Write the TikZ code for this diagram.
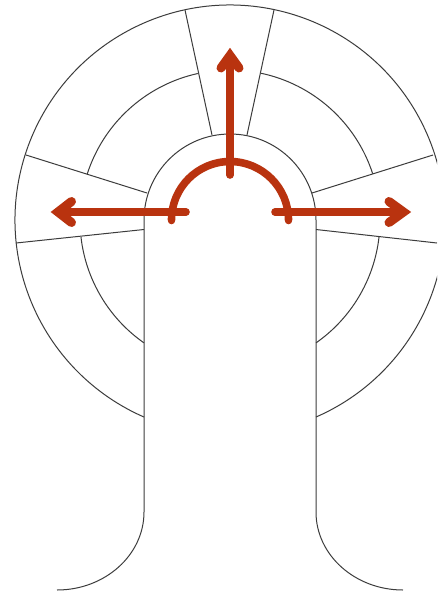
\documentclass[tikz,border=0pt]{standalone}
\definecolor{wire}{HTML}{3C3C3C}
\definecolor{rust}{HTML}{B9330F}
\tikzset{
  wireline/.style={draw=wire,line width=1pt},
  rustline/.style={draw=rust,line width=7.6pt,line cap=round,line join=round},
  rusthead/.style={draw=rust,line width=9pt,line cap=round,line join=miter}
}
\begin{document}
\begin{tikzpicture}[x=1pt,y=1pt]
\useasboundingbox (0,0) rectangle (437,-595);
\fill[white] (0,0) rectangle (437,-595);
\clip (0,0) rectangle (437,-595);
\coordinate (c) at (230,-220);
% outer circle
\draw[wireline] ([shift={(c)}]-66.4:215) arc (-66.4:246.4:215);
% middle ring pieces
\draw[wireline] ([shift={(c)}]162.2:150) arc (162.2:102.4:150);
\draw[wireline] ([shift={(c)}]78:150) arc (78:18:150);
\draw[wireline] ([shift={(c)}]186.5:150) arc (186.5:235:150);
\draw[wireline] ([shift={(c)}]-55:150) arc (-55:-6.5:150);
% radial dividers
\draw[wireline] (185,-10) -- (212,-135);
\draw[wireline] (274,-10) -- (247,-135);
\draw[wireline] (26,-155) -- (147,-193);
\draw[wireline] (16,-243) -- (144,-229.5);
\draw[wireline] (433,-155) -- (312,-193);
\draw[wireline] (437,-243) -- (316,-229.5);
% arch and flared stem
\draw[wireline] (57,-590) .. controls (105,-590) and (144,-555) .. (144,-512)
  -- (144,-220) arc (180:0:86) -- (316,-512)
  .. controls (316,-555) and (355,-590) .. (403,-590);
% red arrows
\draw[rustline] (171.5,-220) arc (180:0:58.5);
\draw[rustline] (171.5,-219) -- (171.5,-220.5);
\draw[rustline] (288.5,-219) -- (288.5,-220.5);
\draw[rustline] (230,-175) -- (230,-60);
\draw[rustline] (186,-212) -- (60,-212);
\draw[rustline] (275,-212) -- (402,-212);
\draw[rusthead] (221,-68) -- (230,-55.5) -- (239,-68);
\draw[rusthead] (71.5,-201.5) -- (58,-212) -- (71.5,-222.5);
\draw[rusthead] (389,-201.5) -- (403.5,-212) -- (389,-222.5);
\end{tikzpicture}
\end{document}
